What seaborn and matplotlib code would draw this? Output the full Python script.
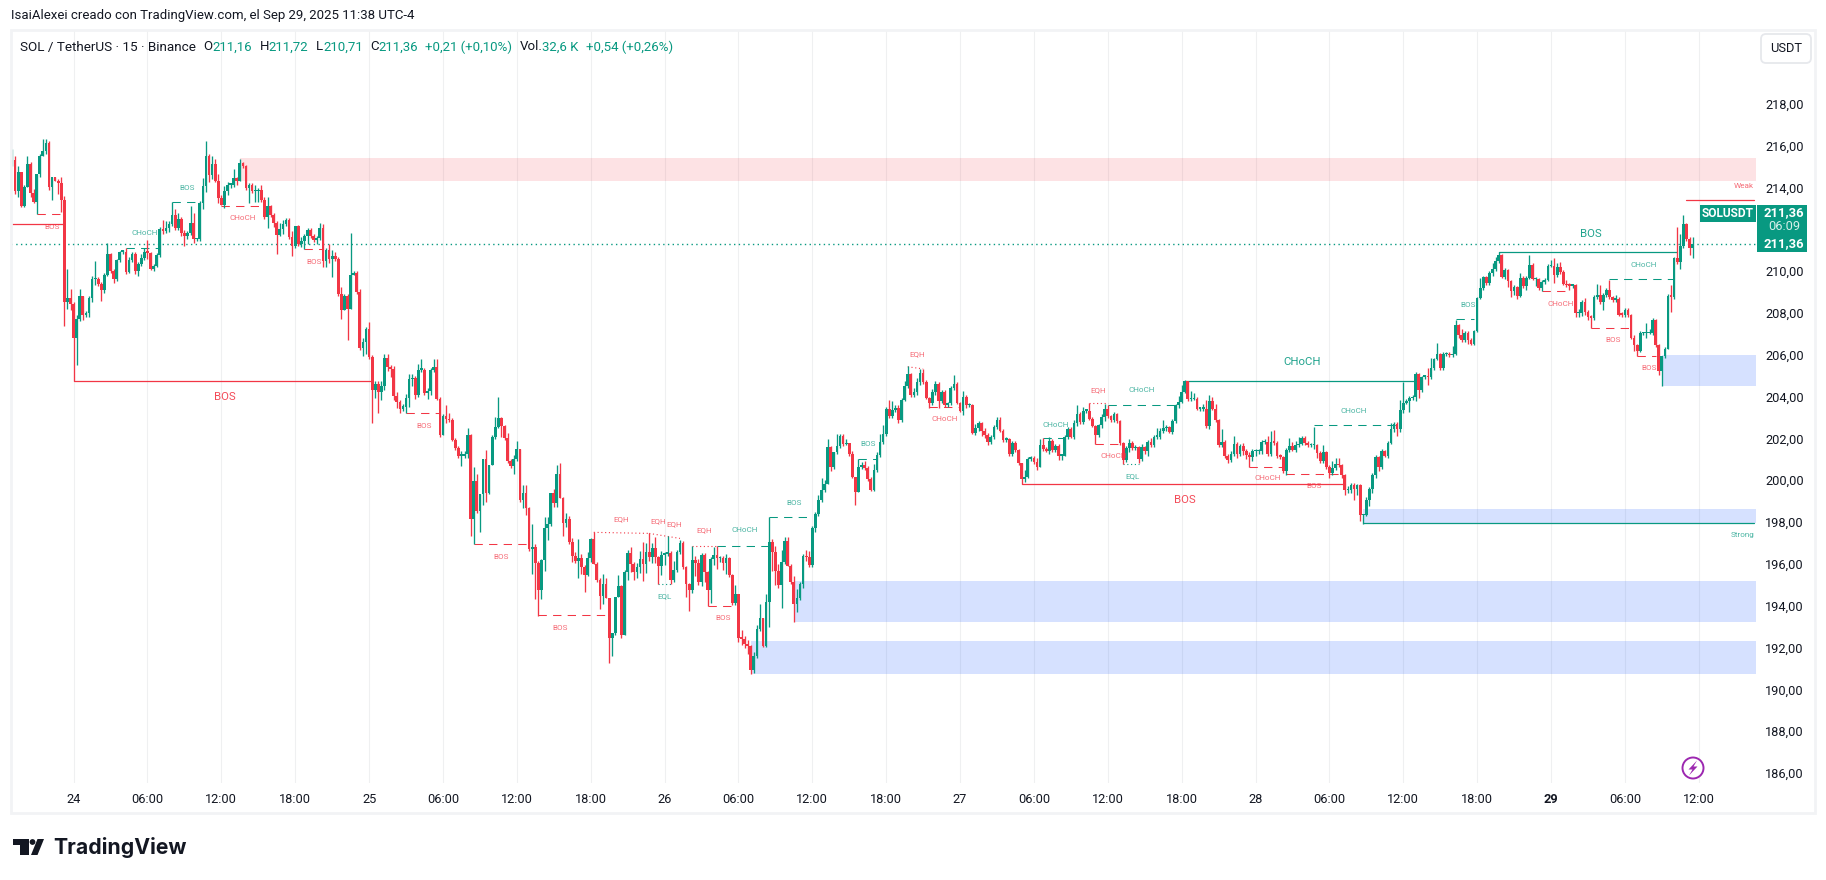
import numpy as np
import pandas as pd
import matplotlib
matplotlib.use("Agg")
import matplotlib.pyplot as plt
import matplotlib.patches as patches
from matplotlib.transforms import IdentityTransform, ScaledTranslation
import seaborn as sns

#=============================================================================
# SOL / USDT 15 min candles. Open = previous close.
first_open = 215.3

closes = [
    215.4,213.9,214.8,213.2,214.1,215.2,213.8,213.4,214.7,215.6,215.8,216.2,214.1,214.6,214.4,214.3,213.5,208.6,208.8,208.5,
    206.9,207.8,208.9,208.0,208.05,208.8,209.7,209.7,209.45,209.15,209.9,210.9,210.1,209.7,210.6,211.0,211.0,210.05,210.6,210.9,210.1,210.4,210.7,211.0,
    210.95,210.2,210.3,210.85,212.1,212.0,212.15,212.35,212.75,212.15,212.55,211.9,211.75,211.9,212.4,211.6,211.6,213.35,214.15,215.6,214.65,215.2,214.4,213.55,
    213.25,213.9,214.2,214.2,214.55,214.4,215.25,215.1,214.05,214.2,213.9,213.9,213.95,213.5,212.65,213.2,212.75,212.4,211.8,212.1,212.35,212.5,211.7,211.3,
    212.25,211.35,211.5,211.75,212.05,211.75,211.55,211.65,212.15,210.55,211.1,210.65,210.8,210.65,209.0,208.2,208.9,208.25,209.9,210.0,209.1,206.4,206.7,207.3,
    205.95,204.4,204.7,204.3,204.6,205.9,205.5,205.4,204.1,203.8,203.5,203.6,204.0,204.9,204.95,204.15,205.35,205.35,204.25,204.35,205.35,205.5,203.95,202.25,
    203.15,203.0,202.95,202.0,201.6,201.25,201.25,201.35,202.25,198.2,200.05,198.6,199.4,201.1,199.45,200.8,202.15,202.6,203.05,202.65,202.1,201.0,200.75,201.1,
    201.55,199.15,199.45,198.75,196.8,196.9,196.1,194.8,196.25,197.8,198.0,199.45,199.0,200.35,199.2,198.05,198.2,197.1,196.45,196.2,196.35,195.9,195.55,196.35,
    197.25,196.05,195.3,194.55,195.1,194.45,192.55,192.75,194.5,195.0,192.65,195.7,196.6,196.05,195.7,195.9,196.3,196.05,196.65,196.4,196.85,196.4,195.95,196.5,
    196.55,196.6,195.3,195.8,196.65,197.05,195.9,195.1,194.8,196.25,196.1,195.2,196.5,195.7,194.8,196.3,196.5,196.35,196.35,196.1,196.35,195.55,194.2,194.65,
    192.55,192.5,192.25,192.15,191.0,191.65,192.95,193.5,192.15,194.25,197.1,196.65,195.75,195.05,196.15,197.15,195.95,195.2,194.15,194.45,195.1,196.45,196.4,196.0,
    197.8,198.45,199.15,199.6,199.9,201.65,200.7,201.4,201.7,202.2,201.8,201.85,201.35,200.25,199.5,200.7,200.8,200.65,200.15,199.6,200.55,201.3,201.9,202.3,
    203.5,203.15,203.45,203.55,202.95,203.9,204.6,205.15,204.15,204.3,204.75,205.2,204.75,204.0,203.75,204.3,204.7,203.85,204.3,203.65,203.75,204.5,204.7,203.75,
    203.4,204.05,203.65,203.65,202.35,202.55,202.8,202.45,202.25,201.9,202.15,202.6,202.95,202.45,202.0,202.05,201.35,201.85,201.5,200.9,200.15,200.25,201.1,201.15,
    200.95,200.7,201.75,201.55,201.45,201.95,201.5,201.7,201.25,201.25,202.15,202.5,202.15,202.8,203.25,202.85,203.4,203.4,203.0,202.65,202.25,202.7,203.1,203.5,
    203.15,202.95,203.25,202.9,201.85,201.05,201.6,201.85,201.6,201.65,201.1,201.65,201.45,201.9,201.75,202.15,202.15,202.45,202.55,202.6,202.4,202.9,203.65,203.8,
    204.3,204.8,203.95,203.95,203.95,203.5,203.5,203.5,202.65,203.85,203.5,202.95,201.75,201.9,201.25,201.05,201.35,201.8,201.35,201.7,201.45,201.3,201.2,201.45,
    201.45,201.45,201.9,201.9,201.33,201.92,201.87,201.23,201.2,200.53,201.5,201.71,201.5,201.76,201.8,202.07,201.84,201.75,201.75,201.75,201.36,201.0,201.44,200.7,
    200.4,200.67,200.83,200.8,200.3,199.6,199.6,199.85,199.65,199.85,198.4,198.4,199.15,199.64,200.3,201.17,200.72,201.47,201.25,201.87,202.5,202.75,202.5,203.43,
    203.75,203.85,204.0,204.05,205.14,204.4,205.03,205.03,205.0,205.43,205.86,206.1,205.43,206.1,206.1,206.05,206.1,207.5,207.0,206.78,207.1,206.78,206.57,207.2,
    208.8,209.25,209.78,209.52,210.0,210.16,210.57,210.85,209.78,210.13,209.62,209.12,209.3,208.88,209.73,209.38,209.73,210.37,209.68,209.68,209.25,209.55,209.65,210.3,
    210.3,209.9,210.25,210.05,209.44,209.4,209.38,209.4,208.05,208.05,208.6,208.1,207.86,207.85,208.82,208.93,208.6,208.93,209.17,208.85,208.7,208.75,208.0,207.98,
    208.2,207.98,206.86,206.54,206.27,207.1,207.1,207.1,207.1,207.74,206.54,205.32,206.0,206.33,208.88,208.85,210.69,210.53,211.28,212.33,211.6,211.16,211.36,
]

upper_wick = [
    .5,.2,.3,0,.1,.4,.1,.2,0,.1,.6,.2,.1,0,0,.1,.3,.15,1.4,.4,
    .1,.2,.3,0,.1,.1,.15,.85,.1,.1,.1,.5,.05,.1,.05,.05,.1,.17,.15,.1,.1,.1,.2,.2,
    .55,.05,.1,.1,.1,.4,.3,.1,.62,.3,.3,.1,.15,.1,.8,.45,.05,.1,.4,.7,.1,.4,.25,.3,
    .15,.25,.15,.1,.4,.05,.2,.05,.05,.1,.1,.3,.1,.25,.1,.4,.05,.1,.05,.3,.15,.1,.1,.3,
    0,.05,.2,.1,.1,.1,.1,.1,.25,.2,.1,.25,.3,.2,.1,.3,.1,.1,2.0,.1,.1,.1,.2,.1,
    .35,.1,.1,.1,.2,.2,.2,.1,.15,.2,.1,.1,.2,.25,.2,.1,.3,.5,.1,.15,.1,.35,.35,.1,
    .1,.5,.3,.1,.1,.1,.2,.1,.3,.05,.65,.3,0,0,.4,0,.1,.5,1.0,.05,.05,.25,.1,.2,
    .4,0,.4,.4,.05,1.1,.1,.1,.05,.5,.3,0,.2,.45,.55,.05,.3,.15,.2,.2,.9,.2,.1,.3,
    .05,.33,.1,.1,.5,.3,0,0,0,.55,.05,.1,.15,.3,.1,.2,.4,.8,.4,.9,.2,.5,.05,.2,
    .1,.8,.1,.4,.1,.15,.1,.05,.05,.7,.2,.2,.1,.1,.05,.1,.4,.44,.1,.1,.2,.05,.05,.4,
    0,.35,.1,.2,.05,.2,.2,.65,0,.4,1.2,.15,.3,.3,.6,.2,.2,.1,.3,.4,.1,.1,.3,.3,
    .1,.1,.2,.6,.2,.4,.05,0,.6,.1,.1,.2,0,.1,0,.37,.15,.2,.1,.1,.3,.1,.4,.4,
    .1,.4,.4,.1,.1,.1,.2,.4,.05,.2,.2,.2,.2,.1,.05,.15,.1,.05,.1,.1,.05,.1,.4,.05,
    .05,.3,.1,.1,.05,.2,.1,.05,.1,.1,.1,.1,.15,.15,.05,.1,.05,.1,.1,.05,0,.3,.1,.1,
    .1,.2,.3,.33,.1,.2,.1,.1,.1,.1,.1,.1,.1,.15,.4,.1,.2,.1,.35,.1,.05,.05,.15,.2,
    .15,.05,.1,.05,.05,.05,.1,.2,.1,.1,.05,.15,.05,.1,.2,.1,.4,.1,.4,.1,.05,.1,.05,.3,
    .35,.05,0,.4,.3,.1,.1,.2,.4,.3,.2,.2,.05,.6,.1,.1,.1,.4,.1,.1,.15,.1,.1,.1,
    .1,.1,.1,.15,.3,.5,.55,.1,.1,.05,.1,.4,.2,.2,.35,.1,.1,.1,.1,.85,.05,.1,.3,.05,
    .1,.3,.3,.3,.05,.05,.2,.1,.1,.05,.05,.05,.1,.1,.1,.1,.05,.1,.05,.1,.3,.1,.1,.5,
    1.0,.1,.1,.1,.1,.05,.05,.1,.4,.5,.05,.55,.05,.1,.1,.1,.4,.25,.05,.3,.1,.1,.1,.05,
    .05,.5,.05,.05,.1,.3,.2,.12,.05,.1,.05,.05,.1,.05,.25,.1,.1,.5,.1,.1,.05,.1,.1,.1,
    .3,.4,.2,.25,.1,.2,.1,.05,.05,.2,.1,.2,.1,.1,.1,.55,.5,.1,.1,.5,.05,.2,.1,.1,
    .1,.1,.05,.15,.05,.1,.05,.5,.2,.1,.05,.05,0,.1,.1,.55,.05,1.5,.55,.45,.05,.1,.36,
]

lower_wick = [
    .2,.15,.3,.05,.05,0,.2,.05,.6,.1,0,.1,.15,.6,0,.55,.6,1.15,.35,.3,
    2.1,1.3,.1,.25,.1,.15,.2,.3,.1,.5,.1,.05,.1,.2,.1,.1,.1,.1,.05,.1,.15,.25,.1,.1,
    .3,.05,.1,.05,.1,.15,.1,.2,.1,.1,.1,.15,.45,.15,.1,.2,.1,.1,.3,.3,.3,.15,.05,.2,
    0,.15,.2,.15,.1,.2,0,.1,.1,.7,.1,.5,.5,.1,.1,.5,.1,.2,.9,.05,.25,.1,.1,.5,
    .1,.05,.1,.38,.4,.1,.1,.2,.1,.3,.3,.2,.85,.1,.1,.4,0,1.45,0,0,.1,.1,.4,.6,
    .1,1.6,.4,1.0,.4,.2,.2,.4,.2,.25,.2,.1,.32,.4,.3,.2,.1,.1,.1,.3,.2,.1,.05,.1,
    0,.2,.1,.05,.1,.1,.5,.1,.2,.8,1.2,.1,1.0,.5,.4,.05,0,.1,.05,.5,.1,.1,.1,.4,
    .1,.1,.4,.35,.1,1.2,1.7,1.2,.4,.5,.6,.1,.2,.2,0,.65,.2,.1,.3,.1,.8,.3,.8,.05,
    .2,0,.1,.65,.4,0,1.2,.9,.1,0,.1,0,.4,.35,.4,.3,.25,.8,.4,.2,.3,.3,.85,.4,
    .5,.1,.2,.1,.1,.1,.05,.6,1.0,.1,.6,.15,.2,.5,.76,.6,.3,.5,.2,.3,.5,.1,.1,.1,
    .2,.3,.2,.4,.18,.15,.1,.1,.05,.05,1.2,.9,.7,.15,1.1,.1,0,.1,.85,.4,.1,.2,.2,.1,
    .1,.2,.1,.1,.1,0,.2,.1,.05,.1,.1,.05,.1,.05,.6,0,.1,.1,.1,.05,.05,.1,.1,.1,
    .1,.1,.1,.1,.15,.1,.05,.1,.1,.1,.15,.1,.05,.05,.2,.1,.15,.3,.1,.05,.05,.1,.1,.05,
    .05,.2,.1,.05,.05,.1,.1,.25,.15,.15,.1,.1,.1,.05,.1,.1,.1,.1,.1,.1,.27,.15,.05,.1,
    .1,.15,0,.1,.05,.1,.1,.1,.2,.2,0,.1,.05,.1,.15,.1,.1,.1,.05,.05,.46,.1,.15,.2,
    .1,.1,.1,.1,.1,.2,.1,.2,.1,.1,.2,.1,.1,.2,.1,.1,.1,.1,.1,.1,.05,.1,.1,.1,
    .05,.05,.1,.1,.05,.05,.1,.1,.1,.15,.05,.1,.1,.1,.1,.15,.1,.1,.2,.1,.15,.2,.5,.2,
    .2,.1,.1,.1,.1,.1,.1,.1,.1,.1,.2,.1,.05,.1,.1,.05,.1,.1,.1,.2,.2,.1,.1,.1,
    .2,.1,.1,.1,.1,.25,.15,.15,.5,.3,.3,.4,.05,.3,.2,.1,.2,.1,.05,.1,.05,.1,.3,.1,
    .15,.05,.5,.1,.2,.4,.1,.1,.35,.1,.1,.05,.1,.1,.1,.1,.1,.05,.1,.1,.1,.2,.05,.05,
    .05,.05,.1,.1,.1,.15,.1,.1,.05,.1,.3,.3,.2,.15,.05,.1,.2,.05,.05,.3,.1,.13,.1,.05,
    .05,.4,.1,.1,.05,.1,.2,.1,.15,.15,.1,.1,.1,.5,.1,.1,.1,.4,.1,.1,.1,.1,.05,.1,
    .1,.1,.05,.3,.27,.05,.1,.2,.05,.1,.1,.2,.75,.1,0,.75,.1,.1,.35,.1,.1,.3,.45,
]

# structure lines: bar where they start / end, price at both ends
level_start = [0, 8, 20, 37, 52, 68, 95, 128, 150, 171, 189, 207, 221, 229, 210, 226, 246,
               291, 298, 275, 335, 350, 356, 352, 361, 328, 381, 402, 414, 423, 483, 469, 497, 513, 528, 519, 439, 544]
level_end = [17, 17, 117, 48, 61, 82, 101, 139, 168, 193, 207, 217, 229, 246, 214, 235, 260,
             296, 308, 281, 342, 356, 378, 361, 366, 433, 456, 413, 432, 451, 541, 475, 506, 526, 534, 540, 566, 566]
level_price = [212.32, 212.79, 204.81, 211.17, 213.37, 213.18, 211.12, 203.28, 197.0, 193.61, 197.58, 197.53, 196.94, 196.94, 195.11, 194.04, 198.3,
               205.5, 203.56, 201.07, 202.08, 203.75, 203.65, 201.79, 200.85, 199.88, 204.83, 200.72, 200.35, 202.7, 210.97, 207.77, 209.12, 207.34, 206.0, 209.68, 198.01, 213.46]
level_price_end = [212.32, 212.79, 204.81, 211.17, 213.37, 213.18, 211.12, 203.28, 197.0, 193.61, 197.53, 197.29, 196.94, 196.94, 195.11, 194.04, 198.3,
                   205.4, 203.56, 201.07, 202.08, 203.75, 203.65, 201.79, 200.85, 199.88, 204.83, 200.72, 200.35, 202.7, 210.97, 207.77, 209.12, 207.34, 206.0, 209.68, 198.01, 213.46]
level_side = ['bear','bear','bear','bull','bull','bear','bear','bear','bear','bear','bear','bear','bear','bull','bull','bear','bull',
              'bear','bear','bull','bull','bear','bull','bear','bull','bear','bull','bear','bear','bull','bull','bull','bear','bear','bear','bull','bull','bear']
level_kind = ['swing','internal','swing','internal','internal','internal','internal','internal','internal','internal','equal','equal','equal','internal','equal','internal','internal',
              'equal','internal','internal','internal','equal','internal','internal','equal','swing','swing','internal','internal','internal','swing','internal','internal','internal','internal','internal','swing','swing']

# labels next to the structure lines
label_text = ['BOS','BOS','CHoCH','BOS','CHoCH','BOS','BOS','BOS','BOS','EQH','EQH','EQH','EQH','CHoCH','EQL','BOS','BOS',
              'EQH','CHoCH','BOS','CHoCH','EQH','CHoCH','CHoCH','EQL','BOS','CHoCH','BOS','CHoCH','CHoCH','BOS','BOS','CHoCH','BOS','BOS','CHoCH']
label_bar = [13, 69, 43, 57, 75, 98, 134, 159, 178, 198, 210, 215, 225, 238, 212, 231, 254,
             294, 303, 278, 339, 353, 367, 358, 364, 381, 419, 423, 408, 436, 513, 473, 503, 520, 532, 530]
label_price = [212.17, 204.06, 211.9, 214.05, 212.62, 210.51, 202.67, 196.4, 193.0, 198.22, 198.12, 197.98, 197.69, 197.69, 194.54, 193.48, 198.98,
               206.11, 203.0, 201.8, 202.71, 204.39, 204.39, 201.23, 200.27, 199.13, 205.73, 199.8, 200.2, 203.39, 211.85, 208.45, 208.5, 206.78, 205.44, 210.37]
label_side = ['bear','bear','bull','bull','bear','bear','bear','bear','bear','bear','bear','bear','bear','bull','bull','bear','bull',
              'bear','bear','bull','bull','bear','bull','bear','bull','bear','bull','bear','bear','bull','bull','bull','bear','bear','bear','bull']
swing_labels = [1, 25, 26, 30]

# order block zones
zone_start = [74, 254, 240, 536, 439]
zone_low = [214.4, 193.31, 190.82, 204.6, 198.01]
zone_high = [215.49, 195.27, 192.38, 206.06, 198.7]
zone_side = ['supply', 'demand', 'demand', 'demand', 'demand']

# axes (212,00 sits under the last price tag in the screenshot)
price_ticks = [186, 188, 190, 192, 194, 196, 198, 200, 202, 204, 206, 208, 210, 214, 216, 218]
time_labels = ['24','06:00','12:00','18:00','25','06:00','12:00','18:00','26','06:00','12:00','18:00',
               '27','06:00','12:00','18:00','28','06:00','12:00','18:00','29','06:00','12:00']
time_bars = list(range(20, 549, 24))
last_price = 211.36

#=============================================================================
W, H = 1826, 880
UP = '#089981'
DOWN = '#F23645'
INK = '#131722'

sns.set_theme(style='white')
plt.rcParams['font.family'] = ['Roboto', 'DejaVu Sans']

fig = plt.figure(figsize=(W / 100, H / 100), dpi=100, facecolor='white')
ax = fig.add_axes([11 / W, 1 - 783 / H, 1745 / W, 753 / H])
ax.set_xlim(-0.34, 566.6)
ax.set_ylim(185.59, 221.61)

df = pd.DataFrame({'close': closes, 'up': upper_wick, 'dn': lower_wick})
df['open'] = df['close'].shift(1).fillna(first_open)
df['high'] = df[['open', 'close']].max(axis=1) + df['up']
df['low'] = df[['open', 'close']].min(axis=1) - df['dn']
df['bar'] = np.arange(len(df))
df['color'] = np.where(df['close'] >= df['open'], UP, DOWN)

# zones first, the grid shows through them
zone_colors = {'supply': ('#f23645', 0.14), 'demand': ('#2962ff', 0.19)}
for s, lo, hi, side in zip(zone_start, zone_low, zone_high, zone_side):
    c, a = zone_colors[side]
    ax.add_patch(patches.Rectangle((s, lo), ax.get_xlim()[1] - s, hi - lo, facecolor=c, alpha=a, linewidth=0, zorder=1))

sns.lineplot(x=[ax.get_xlim()[0], ax.get_xlim()[1]], y=[last_price, last_price], color=UP,
             linestyle=(0, (1, 2.4)), linewidth=1.0, ax=ax, zorder=2, legend=False)

kind_style = {'swing': ('-', 0.9), 'internal': ((0, (8, 6)), 0.75), 'equal': ((0, (1, 2.4)), 0.8)}
side_color = {'bull': UP, 'bear': DOWN}
for s, e, p0, p1, side, kind in zip(level_start, level_end, level_price, level_price_end, level_side, level_kind):
    ls, lw = kind_style[kind]
    sns.lineplot(x=[s, e], y=[p0, p1], color=side_color[side], linestyle=ls, linewidth=lw,
                 ax=ax, zorder=3, legend=False, estimator=None)

# candles
ax.vlines(df['bar'], df['low'], df['high'], colors=df['color'], linewidth=0.95, zorder=4)
body = (df['close'] - df['open']).abs().clip(lower=0.07)
ax.bar(df['bar'], body, bottom=df[['open', 'close']].min(axis=1), width=0.88,
       color=df['color'], linewidth=0, zorder=5)

for n, (txt, b, p, side) in enumerate(zip(label_text, label_bar, label_price, label_side)):
    major = n in swing_labels
    ax.text(b, p, txt, color=side_color[side], alpha=0.9 if major else 0.72,
            fontsize=8.2 if major else 5.9, ha='center', va='center', zorder=6)
ax.text(566, 214.15, 'Weak', color=DOWN, alpha=0.72, fontsize=5.9, ha='right', va='center', zorder=6)
ax.text(566, 197.45, 'Strong', color=UP, alpha=0.72, fontsize=5.9, ha='right', va='center', zorder=6)

# axes, only vertical grid
for sp in ax.spines.values():
    sp.set_visible(False)
ax.set_yticks(price_ticks)
ax.set_yticklabels([f'{t},00' for t in price_ticks])
ax.yaxis.tick_right()
ax.set_xticks(time_bars)
ax.set_xticklabels(time_labels)
ax.tick_params(axis='y', length=0, pad=6.5, labelsize=9.2, labelcolor=INK)
ax.tick_params(axis='x', length=0, pad=7, labelsize=9.2, labelcolor=INK)
lift = ScaledTranslation(0, 1.5 / 100, fig.dpi_scale_trans)
for lab in ax.get_yticklabels():
    lab.set_transform(lab.get_transform() + lift)
for lab in ax.get_xticklabels():
    if lab.get_text() == '29':
        lab.set_fontweight('bold')
ax.grid(True, axis='x', color='#2a2e39', alpha=0.07, linewidth=0.8)
ax.set_axisbelow(True)
ax.set_ylabel('')
ax.set_xlabel('')

#=============================================================================
# chrome around the pane, in pixels from top left
def px_rect(x0, y0, x1, y1, **kw):
    p = patches.Rectangle((x0, H - y1), x1 - x0, y1 - y0, transform=IdentityTransform(), **kw)
    fig.add_artist(p)
    return p

def px_text(x, y, s, **kw):
    kw.setdefault('va', 'center')
    kw.setdefault('fontsize', 9.3)
    kw.setdefault('color', INK)
    return fig.text(x / W, 1 - y / H, s, **kw)

px_rect(10.5, 30, 1815, 813, facecolor='none', edgecolor='#f2f3f5', linewidth=2)
px_text(11, 16, 'IsaiAlexei creado con TradingView.com, el Sep 29, 2025 11:38 UTC-4', fontsize=9.5)

px_text(20, 47, 'SOL / TetherUS · 15 · Binance', fontsize=9.7)
for x, s in [(203.6, 'O'), (260, 'H'), (316, 'L'), (370, 'C'), (520, 'Vol.')]:
    px_text(x, 47, s, fontsize=9.5)
for x, s in [(212.5, '211,16'), (268, '211,72'), (323, '210,71'), (378, '211,36'),
             (425, '+0,21 (+0,10%)'), (542, '32,6 K'), (586, '+0,54 (+0,26%)')]:
    px_text(x, 47, s, fontsize=9.5, color=UP)

# USDT button
fig.add_artist(patches.FancyBboxPatch((1762, H - 62), 48, 27, boxstyle='round,pad=1,rounding_size=5',
                                      transform=IdentityTransform(), facecolor='white',
                                      edgecolor='#e6e8ec', linewidth=1.3))
px_text(1786, 48.5, 'USDT', ha='center', fontsize=9.3)

# last price tags
px_rect(1757, 205, 1807, 252, facecolor=UP, linewidth=0)
px_text(1784, 213, '211,36', ha='center', color='white', fontsize=9.4, fontweight='bold')
px_text(1784, 227, '06:09', ha='center', color='#d5efe9', fontsize=9.2)
px_text(1784, 244, '211,36', ha='center', color='white', fontsize=9.4, fontweight='bold')
px_rect(1700, 205, 1756, 222, facecolor=UP, linewidth=0)
px_text(1728, 213.5, 'SOLUSDT', ha='center', color='white', fontsize=8.6, fontweight='bold')

# purple flash icon
fig.add_artist(patches.Circle((1693, H - 768), 10.5, transform=IdentityTransform(),
                              facecolor='white', edgecolor='#9c27b0', linewidth=1.4))
bolt = [(1697, 760.5), (1688.5, 769.5), (1692.5, 769.5), (1689, 775.5), (1697.5, 766.5), (1693.5, 766.5)]
fig.add_artist(patches.Polygon([(x, H - y) for x, y in bolt], transform=IdentityTransform(),
                               facecolor='#9c27b0', linewidth=0))

# TradingView logo
px_rect(12.5, 839, 29, 845, facecolor='#131722', linewidth=0)
px_rect(20, 839, 29, 855, facecolor='#131722', linewidth=0)
fig.add_artist(patches.Circle((32.5, H - 842), 2.9, transform=IdentityTransform(), facecolor='#131722', linewidth=0))
fig.add_artist(patches.Polygon([(31, H - 855), (37.5, H - 855), (44, H - 839), (37.5, H - 839)],
                               transform=IdentityTransform(), facecolor='#131722', linewidth=0))
px_text(53, 847.5, 'TradingView', fontsize=15.3, fontweight='bold', family='Inter', color='#131722')

fig.savefig('out.png', dpi=100)
